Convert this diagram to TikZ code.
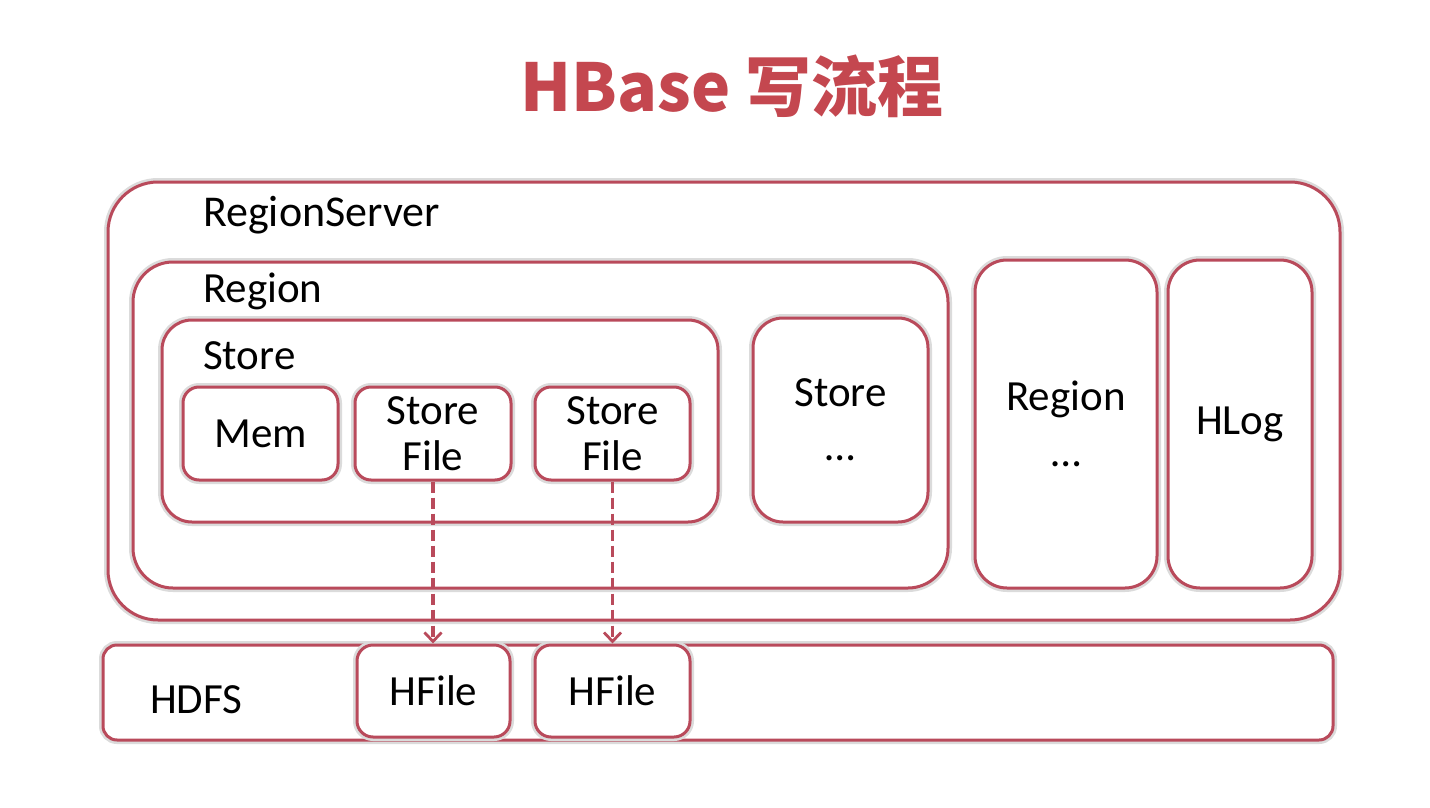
\documentclass[tikz,border=0pt]{standalone}
\usepackage{fontspec}
\setmainfont{Carlito}
\newfontfamily\cjk{Noto Sans CJK SC}
\usetikzlibrary{arrows.meta}
\definecolor{bord}{HTML}{B94A5B}
\definecolor{ttl}{HTML}{C4474F}
\begin{document}
\begin{tikzpicture}[x=1pt,y=-1pt,
  box/.style={draw=bord, line width=3pt, fill=white, rounded corners=#1,
    preaction={draw=black!14, line width=8pt}, inner sep=0pt,
    font=\fontsize{43}{50}\selectfont, align=center},
  lbl/.style={inner sep=0pt, anchor=base west, font=\fontsize{43}{50}\selectfont},
  arr/.style={draw=bord, line width=3.8pt, dash pattern=on 11pt off 5pt,
    -{Straight Barb[length=9pt,width=17pt,line width=2.8pt]}}
]
\useasboundingbox (0,0) rectangle (1430,808);
\fill[white] (0,0) rectangle (1430,808);

\node[inner sep=0pt, text=ttl, font=\cjk\bfseries\fontsize{66}{70}\selectfont] (title) at (732,86) {HBase 写流程};

\node[box=50pt, minimum width=1232pt, minimum height=438pt] (rs) at (724,401) {};
\node[lbl, font=\fontsize{44}{50}\selectfont] (rslbl) at (203,226) {RegionServer};

\node[box=40pt, minimum width=815pt, minimum height=326pt] (reg) at (540.5,425) {};
\node[lbl] (reglbl) at (203,302) {Region};

\node[box=30pt, minimum width=556pt, minimum height=202pt] (store) at (440,421) {};
\node[lbl] (storelbl) at (203,369) {Store};

\node[box=16pt, minimum width=155pt, minimum height=93pt] (mem) at (260.5,433.5) {Mem};
\node[box=16pt, minimum width=156pt, minimum height=93pt] (sf1) at (433,433.5) {Store\\[-4pt]File};
\node[box=16pt, minimum width=155pt, minimum height=93pt] (sf2) at (612.5,433.5) {Store\\[-4pt]File};

\node[box=30pt, minimum width=175pt, minimum height=204pt] (store2) at (840.5,420) {Store\\[4pt]…};
\node[box=32pt, minimum width=182pt, minimum height=328pt] (reg2) at (1066,424) {Region\\[6pt]…};
\node[box=32pt, minimum width=144pt, minimum height=328pt] (hlog) at (1240,424) {HLog};

\node[box=14pt, minimum width=1230pt, minimum height=95pt] (hdfs) at (718,692.5) {};
\node[lbl] (hdfslbl) at (150,713) {HDFS};
\node[box=16pt, minimum width=153pt, minimum height=92pt] (hf1) at (433.5,691) {HFile};
\node[box=16pt, minimum width=155pt, minimum height=92pt] (hf2) at (612.5,691) {HFile};

\draw[arr] (sf1.south) -- (sf1.south |- hf1.north);
\draw[arr] (sf2.south) -- (sf2.south |- hf2.north);
\end{tikzpicture}
\end{document}
